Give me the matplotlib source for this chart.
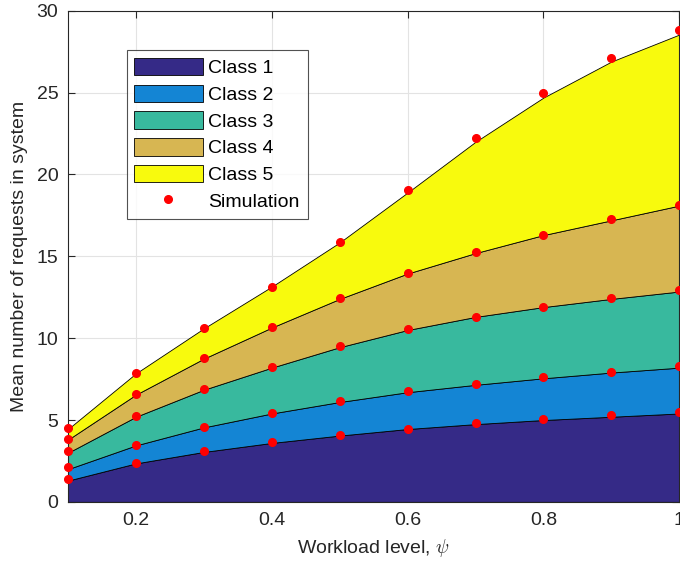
import matplotlib
matplotlib.use('Agg')
import matplotlib.pyplot as plt
import numpy as np

plt.rcParams['font.family'] = ['Liberation Sans', 'DejaVu Sans']
plt.rcParams['mathtext.fontset'] = 'cm'

x = [0.1, 0.2, 0.3, 0.4, 0.5, 0.6, 0.7, 0.8, 0.9, 1.0]

# model values per class
class1 = [1.3, 2.35, 3.05, 3.6, 4.05, 4.45, 4.75, 5.0, 5.2, 5.4]
class2 = [0.7, 1.1, 1.5, 1.8, 2.05, 2.25, 2.4, 2.55, 2.7, 2.8]
class3 = [1.0, 1.75, 2.3, 2.8, 3.35, 3.8, 4.15, 4.35, 4.5, 4.65]
class4 = [0.8, 1.35, 1.9, 2.45, 2.95, 3.45, 3.9, 4.4, 4.8, 5.25]
class5 = [0.65, 1.3, 1.85, 2.5, 3.45, 4.95, 6.8, 8.4, 9.7, 10.45]

# simulation, cumulative
sim1 = [1.4, 2.4, 3.1, 3.65, 4.1, 4.48, 4.8, 5.05, 5.3, 5.5]
sim2 = [2.1, 3.5, 4.6, 5.45, 6.15, 6.75, 7.2, 7.6, 7.95, 8.3]
sim3 = [3.1, 5.25, 6.9, 8.25, 9.5, 10.55, 11.3, 11.9, 12.45, 12.95]
sim4 = [3.85, 6.6, 8.8, 10.7, 12.45, 14.0, 15.25, 16.3, 17.3, 18.15]
sim5 = [4.5, 7.85, 10.65, 13.15, 15.9, 19.05, 22.2, 24.95, 27.1, 28.8]

labels = ['Class 1', 'Class 2', 'Class 3', 'Class 4', 'Class 5']
colors = ['#352A87', '#1485D4', '#38B99E', '#D7B652', '#F8FA0D']

fig = plt.figure(figsize=(6.8, 5.69), dpi=100)
ax = fig.add_axes([0.1, 0.118, 0.899, 0.863])

ax.grid(True, color='#e3e3e3', linewidth=0.8, zorder=0)
ax.set_axisbelow(True)

ax.stackplot(x, class1, class2, class3, class4, class5, labels=labels,
             colors=colors, edgecolor='black', linewidth=0.6, zorder=2)

for s in [sim1, sim2, sim3, sim4, sim5]:
    ax.plot(x, s, 'o', color='red', markersize=5.5, clip_on=False, zorder=3)
ax.lines[0].set_label('Simulation')

ax.set_xlim(0.1, 1.0)
ax.set_ylim(0, 30)
ax.set_xticks([0.2, 0.4, 0.6, 0.8, 1.0])
ax.set_xticklabels(['0.2', '0.4', '0.6', '0.8', '1'])
ax.set_yticks([0, 5, 10, 15, 20, 25, 30])
ax.tick_params(direction='in', top=True, right=True, labelsize=14, length=5,
               colors='#262626', pad=7)
for sp in ax.spines.values():
    sp.set_color('#262626')
    sp.set_linewidth(0.8)

ax.set_xlabel(r'Workload level, $\psi$', fontsize=14, color='#262626', labelpad=6)
ax.set_ylabel('Mean number of requests in system', fontsize=14, color='#262626',
              labelpad=6)

leg = ax.legend(loc='upper left', bbox_to_anchor=(0.096, 0.92), borderaxespad=0,
                fontsize=14, fancybox=False, edgecolor='#262626',
                handlelength=3.5, handleheight=1.0, labelspacing=0.38,
                handletextpad=0.3, borderpad=0.4)
leg.get_frame().set_linewidth(0.8)

fig.savefig('out.png', dpi=100)
